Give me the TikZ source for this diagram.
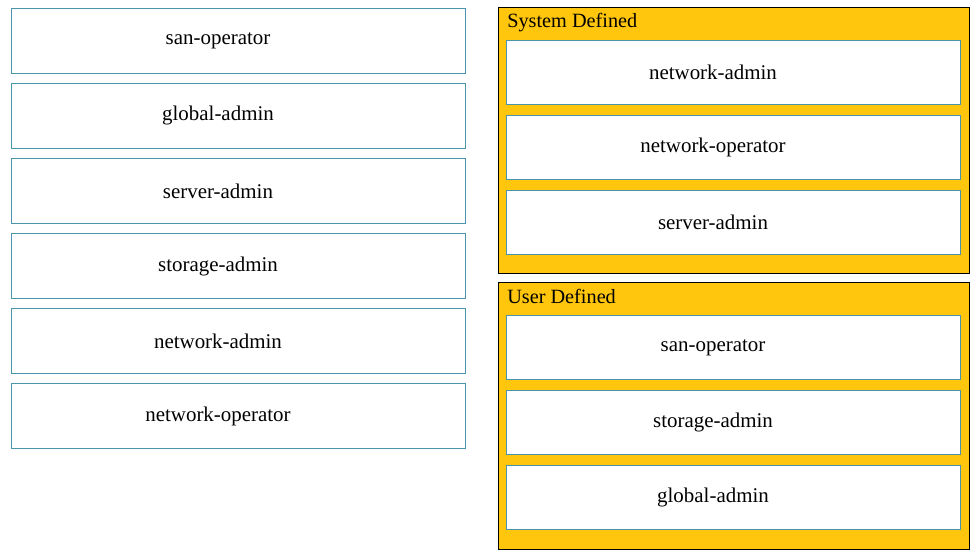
\documentclass[tikz,border=0pt]{standalone}
\usepackage{fontspec}
\setmainfont{Liberation Serif}
\usepackage{tikz}
\usetikzlibrary{positioning}
\definecolor{boxline}{HTML}{4A94AC}
\definecolor{groupfill}{HTML}{FFC60D}

\begin{document}
\begin{tikzpicture}[x=0.75pt,y=-0.75pt,node distance=56.25pt,
                    item node/.style={rectangle,draw=boxline,fill=white,line width=0.75pt,
                      minimum width=340.5pt,minimum height=48.5pt,inner sep=0pt,
                      font=\fontsize{15.7}{18}\selectfont,
                      execute at begin node={\hspace*{-30pt}}},
                    group node/.style={rectangle,draw=black,fill=groupfill,line width=0.75pt,
                      minimum width=353.25pt,minimum height=199.5pt,inner sep=0pt},
                    title node/.style={anchor=base west,inner sep=0pt,
                      font=\fontsize{15.2}{18}\selectfont}]

  \useasboundingbox (0,0) rectangle (978,555);

  % left column
  \node[item node] (1) at (238,41) {san-operator};
  \node[item node] (2) [below of=1] {global-admin};
  \node[item node] (3) [below of=2] {server-admin};
  \node[item node] (4) [below of=3] {storage-admin};
  \node[item node] (5) [below of=4] {network-admin};
  \node[item node] (6) [below of=5] {network-operator};

  % right column
  \node[group node] (sys) at (733.5,141) {};
  \node[title node] at (507,28) {System Defined};
  \node[item node] (s1) at (733,72.5) {network-admin};
  \node[item node] (s2) [below of=s1] {network-operator};
  \node[item node] (s3) [below of=s2] {server-admin};

  \node[group node] (usr) at (733.5,416) {};
  \node[title node] at (507,304) {User Defined};
  \node[item node] (u1) at (733,347.5) {san-operator};
  \node[item node] (u2) [below of=u1] {storage-admin};
  \node[item node] (u3) [below of=u2] {global-admin};
\end{tikzpicture}
\end{document}
